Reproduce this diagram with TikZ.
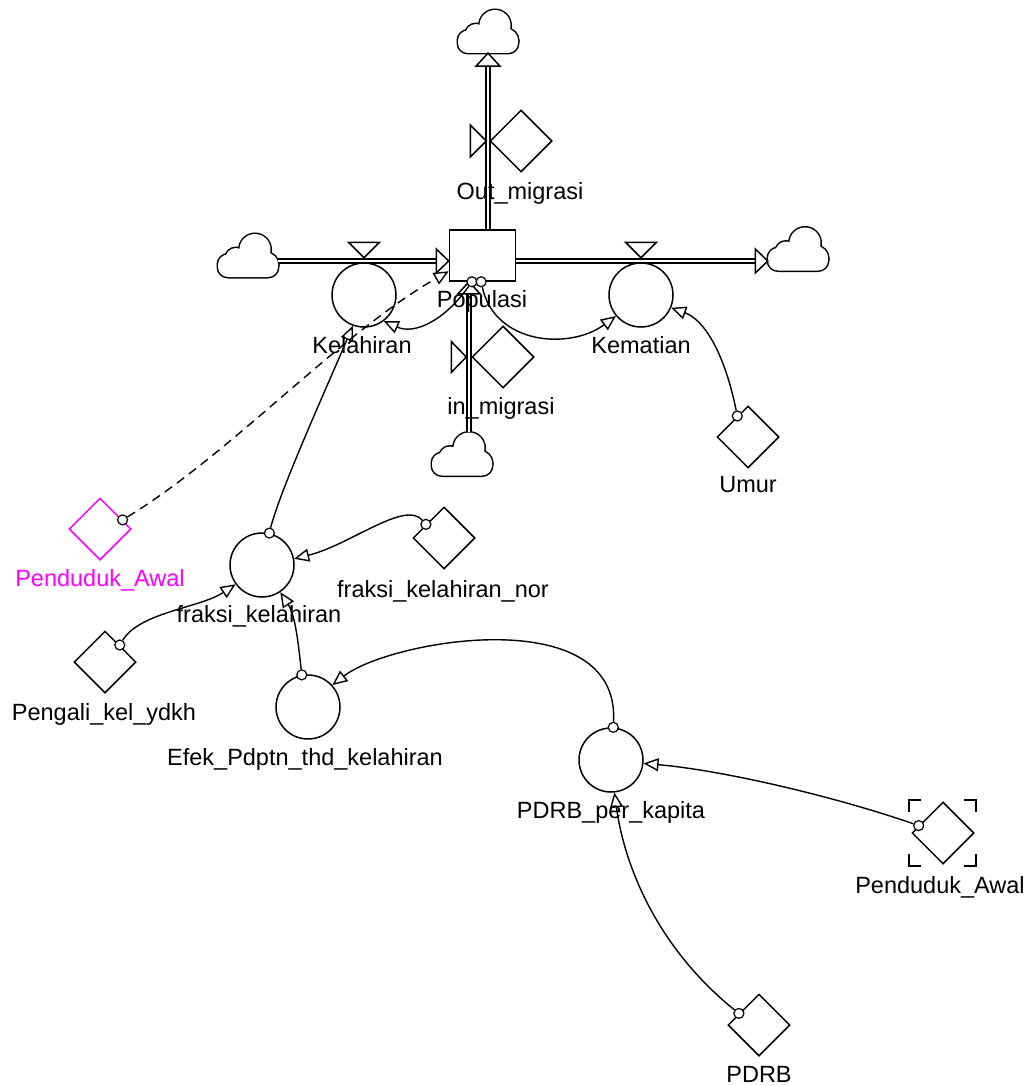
\documentclass[tikz,border=0pt]{standalone}
\usepackage{fontspec}
\setmainfont{Liberation Sans}
\usetikzlibrary{arrows.meta,shapes.geometric,calc}
\definecolor{mag}{RGB}{255,0,255}
\tikzset{
  lw/.style={line width=1.5pt},
  aux/.style={circle,draw,lw,minimum size=64pt,inner sep=0pt},
  const/.style={diamond,draw,lw,minimum width=62pt,minimum height=62pt,inner sep=0pt},
  lbl/.style={anchor=base,inner sep=0pt,font=\fontsize{23.5}{27}\selectfont},
  link/.style={line width=1.4pt,-{Triangle[open,length=15pt,width=13pt]}},
  src/.style={circle,draw,line width=1.2pt,fill=white,minimum size=10pt,inner sep=0pt},
  pipe/.style={double,double distance=2.4pt,line width=1.4pt},
  valve/.style={draw,lw,fill=white,line join=miter},
  cloudbox/.style={minimum width=60pt,minimum height=43pt,inner sep=0pt},
  cloudshape/.pic={
    \draw[line width=3pt,rounded corners=10pt] (-30,21.5) rectangle (30,-1);
    \draw[line width=3pt] (-12,3) circle[radius=10.5pt] (7,-6) circle[radius=15.5pt] (18,9) circle[radius=12pt];
    \fill[white,rounded corners=10pt] (-30,21.5) rectangle (30,-1);
    \fill[white] (-12,3) circle[radius=10.5pt] (7,-6) circle[radius=15.5pt] (18,9) circle[radius=12pt];
  },
}
\begin{document}
\begin{tikzpicture}[x=1pt,y=-1pt]
\useasboundingbox (0,0) rectangle (1033,1086);

% stock, auxiliaries, constants
\node[draw,lw,minimum width=66pt,minimum height=51pt,inner sep=0pt] (pop) at (482.5,255.5) {};
\node[aux] (kel) at (364,295) {};
\node[aux] (kem) at (641,295) {};
\node[aux] (fk) at (262,565) {};
\node[aux] (efek) at (308,707) {};
\node[aux] (ppk) at (611,760) {};
\node[const] (outm) at (521,141) {};
\node[const] (inm) at (503,357) {};
\node[const] (umur) at (748,437) {};
\node[const,draw=mag] (pa) at (100,529) {};
\node[const] (fkn) at (444,538) {};
\node[const] (peng) at (105,662) {};
\node[const] (ghost) at (943,833) {};
\node[const] (pdrb) at (759,1025) {};

% clouds
\node[cloudbox] (cl1) at (248,255.5) {};
\node[cloudbox] (cl2) at (798,249) {};
\node[cloudbox] (cl3) at (488,31.5) {};
\node[cloudbox] (cl4) at (462,454) {};
\pic at (cl1) {cloudshape};
\pic at (cl2) {cloudshape};
\pic at (cl3) {cloudshape};
\pic at (cl4) {cloudshape};

% flow pipes
\draw[pipe] ($(cl1.east)+(0,5.5)$) -- ($(pop.west)+(-12.5,5.5)$);
\draw[valve] ($(pop.west)+(0,5.5)$) -- ++(-12.5,-12) -- ++(0,24) -- cycle;
\draw[pipe] ($(pop.east)+(0,5.5)$) -- ($(cl2.west)+(-12.5,12)$);
\draw[valve] ($(cl2.west)+(0,12)$) -- ++(-12.5,-12) -- ++(0,24) -- cycle;
\draw[pipe] ($(pop.north)+(5.5,0)$) -- ($(cl3.south)+(0,13)$);
\draw[valve] (cl3.south) -- ++(-12,13) -- ++(24,0) -- cycle;
\draw[pipe] ($(cl4.north)+(7,0)$) -- ($(pop.south)+(-13.5,12)$);
\draw[valve] ($(pop.south)+(-13.5,0)$) -- ++(-11,12) -- ++(22,0) -- cycle;

% valves
\draw[valve] ($(kel.north)+(-15.5,-20)$) -- ++(31,0) -- ($(kel.north)+(0,-4.5)$) -- cycle;
\draw[valve] ($(kem.north)+(-15.5,-20)$) -- ++(31,0) -- ($(kem.north)+(0,-4.5)$) -- cycle;
\draw[valve] ($(outm.west)+(-19,-16)$) -- ++(0,32) -- ($(outm.west)+(-3,0)$) -- cycle;
\draw[valve] ($(inm.west)+(-20,-15.5)$) -- ++(0,31) -- ($(inm.west)+(-5,0)$) -- cycle;

% ghost brackets
\begin{scope}[shift={(ghost.center)},lw]
\draw (-34,-21) -- (-34,-33) -- (-22,-33);
\draw (21,-33) -- (33,-33) -- (33,-21);
\draw (-34,21) -- (-34,33) -- (-22,33);
\draw (21,33) -- (33,33) -- (33,21);
\end{scope}

% labels
\node[lbl] (loutm) at (520,200) {Out\_migrasi};
\node[lbl] (lpop) at (482,307) {Populasi};
\node[lbl] (lkel) at (362,353) {Kelahiran};
\node[lbl] (lkem) at (641,353) {Kematian};
\node[lbl] (linm) at (501,414) {in\_migrasi};
\node[lbl] (lumur) at (748,492) {Umur};
\node[lbl,text=mag] (lpa) at (100,586) {Penduduk\_Awal};
\node[lbl] (lfk) at (259,622) {fraksi\_kelahiran};
\node[lbl] (lfkn) at (443,597) {fraksi\_kelahiran\_nor};
\node[lbl] (lpeng) at (104,720) {Pengali\_kel\_ydkh};
\node[lbl] (lefek) at (305,765) {Efek\_Pdptn\_thd\_kelahiran};
\node[lbl] (lppk) at (611,818) {PDRB\_per\_kapita};
\node[lbl] (lghost) at (940,893) {Penduduk\_Awal};
\node[lbl] (lpdrb) at (759,1082) {PDRB};

% links
\node[src] (s1) at (pop.-112) {};
\node[src] (s2) at (pop.-93) {};
\draw[link] (s1) .. controls (445,320) and (415,335) .. (kel.-53);
\draw[link] (s2) .. controls (495,345) and (570,350) .. (kem.-140);
\node[src] (s3) at (umur.117) {};
\draw[link] (s3) .. controls (725,355) and (705,320) .. (kem.-23);
\node[src] (s4) at (pa.22) {};
\draw[link,dash pattern=on 9pt off 6pt] (s4) .. controls (232,453) and (339,334) .. (pop.205);
\node[src] (s5) at (fk.77) {};
\draw[link] (s5) .. controls (280,490) and (330,380) .. (kel.-110);
\node[src] (s6) at (fkn.143) {};
\draw[link] (s6) .. controls (405,500) and (350,545) .. (fk.11);
\node[src] (s7) at (peng.49) {};
\draw[link] (s7) .. controls (140,612) and (200,608) .. (fk.-144);
\node[src] (s8) at (efek.101) {};
\draw[link] (s8) .. controls (298,640) and (295,615) .. (fk.-56);
\node[src] (s9) at (ppk.86) {};
\draw[link] (s9) .. controls (620,600) and (390,640) .. (efek.42);
\node[src] (s10) at (ghost.163) {};
\draw[link] (s10) .. controls (830,795) and (720,770) .. (ppk.-6);
\node[src] (s11) at (pdrb.150) {};
\draw[link] (s11) .. controls (660,950) and (625,870) .. (ppk.-84);
\end{tikzpicture}
\end{document}
